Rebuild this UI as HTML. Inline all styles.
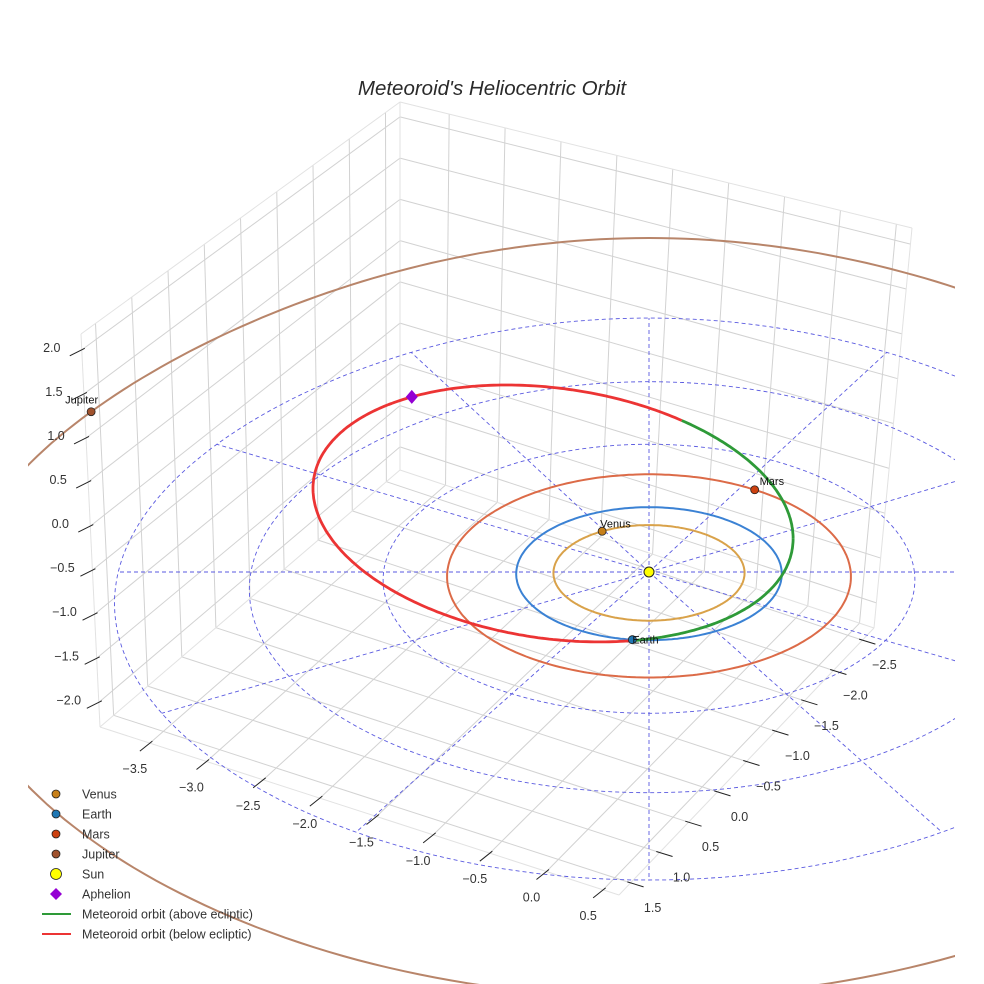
<!DOCTYPE html>
<html><head><meta charset="utf-8"><style>
html,body{margin:0;padding:0;background:#fff;}
svg{display:block;font-family:"Liberation Sans",sans-serif;}
</style></head><body>
<svg id="chart" width="984" height="984" viewBox="0 0 984 984" xmlns="http://www.w3.org/2000/svg">
<defs><clipPath id="plotClip"><rect x="28" y="0" width="927" height="984"/></clipPath></defs>
<text x="492" y="95" text-anchor="middle" font-size="20.5" font-style="italic" fill="#2a2a2a">Meteoroid's Heliocentric Orbit</text>
<g id="box"></g>
<g id="plot" clip-path="url(#plotClip)"></g>
<g id="ticks"></g>
<g id="legend"></g>
</svg>
<script>
// ---- data ----
const xTicks = [-3.5,-3.0,-2.5,-2.0,-1.5,-1.0,-0.5,0.0,0.5];
const yTicks = [1.5,1.0,0.5,0.0,-0.5,-1.0,-1.5,-2.0,-2.5];
const zTicks = [-2.0,-1.5,-1.0,-0.5,0.0,0.5,1.0,1.5,2.0];
const planetNames = ["Venus","Earth","Mars","Jupiter"];
const planetRadii = [0.72,1.0,1.52,5.2];
const planetAngles = [120,263,57,151];
const orbitColors = ["#d9a24a","#3b82d4","#dc6b48","#b8856a"];
const markerColors = ["#c7801a","#1f77b4","#cc4110","#a0522d"];
const gridRadii = [1,2,3,4];
const gridAngles = [0,30,60,90,120,150,180,210,240,270,300,330];
const meteorCenter = [-0.723,1.357,-0.352];
const meteorAxisA = [1.809,-1.463,0.794];
const meteorAxisB = [0.0,2.018,-0.1];
const aphelionE = 2.2;

// ---- axis range / box geometry ----
const xmin=-3.94,xmax=0.64,ymin=-2.7,ymax=1.7,zmin=-2.28,zmax=2.18;
const L=[100,727],F=[619,895],R=[874,628],B=[400,470],TB=[400,102],TL=[81,334],TR=[912,228];
const NS="http://www.w3.org/2000/svg";
function el(tag,attrs,parent){const e=document.createElementNS(NS,tag);for(const k in attrs)e.setAttribute(k,attrs[k]);parent.appendChild(e);return e;}
function bil(c00,c10,c11,c01,u,v){return [(1-u)*(1-v)*c00[0]+u*(1-v)*c10[0]+u*v*c11[0]+(1-u)*v*c01[0],(1-u)*(1-v)*c00[1]+u*(1-v)*c10[1]+u*v*c11[1]+(1-u)*v*c01[1]];}
const ux=x=>(x-xmin)/(xmax-xmin), vy=y=>(ymax-y)/(ymax-ymin), wz=z=>(z-zmin)/(zmax-zmin);
const box=document.getElementById('box');
function gl(p,q,name,stroke){const l=el('line',{x1:p[0],y1:p[1],x2:q[0],y2:q[1],stroke:stroke||'#d2d2d2','stroke-width':1},box);

}
const floorF=(u,v)=>bil(L,F,R,B,u,v), leftW=(u,v)=>bil(L,B,TB,TL,u,v), rightW=(u,v)=>bil(B,R,TR,TB,u,v);
xTicks.forEach(x=>{const u=ux(x);gl(floorF(u,0),floorF(u,1),'floor-grid-x');gl(rightW(u,0),rightW(u,1),'back-wall-grid-x');});
yTicks.forEach(y=>{const v=vy(y);gl(floorF(0,v),floorF(1,v),'floor-grid-y');gl(leftW(v,0),leftW(v,1),'left-wall-grid-y');});
zTicks.forEach(z=>{const w=wz(z);gl(leftW(0,w),leftW(1,w),'left-wall-grid-z');gl(rightW(0,w),rightW(1,w),'back-wall-grid-z');});
[[L,F],[F,R],[R,B],[B,L],[L,TL],[TL,TB],[TB,B],[TB,TR],[TR,R]].forEach(e=>gl(e[0],e[1],'box-edge','#e2e2e2'));

// ---- ticks ----
const tk=document.getElementById('ticks');
function tickLine(p,dx,dy,name){const l=el('line',{x1:p[0]-dx*0.25,y1:p[1]-dy*0.25,x2:p[0]+dx,y2:p[1]+dy,stroke:'#222','stroke-width':1},tk);

}
function tickText(x,y,txt,name){const t=el('text',{x:x,y:y,'text-anchor':'middle','font-size':12.5,fill:'#333'},tk);t.textContent=txt;

}
const fmt=v=>(v<0?'\u2212':'')+Math.abs(v).toFixed(1);
xTicks.forEach(x=>{const p=floorF(ux(x),0);tickLine(p,-10,8,'x-tick');tickText(p[0]-15,p[1]+30,fmt(x),'x-tick-label');});
yTicks.forEach(y=>{const p=floorF(1,vy(y));tickLine(p,13,4,'y-tick');tickText(p[0]+22,p[1]+29,fmt(y),'y-tick-label');});
zTicks.forEach(z=>{const p=leftW(0,wz(z));tickLine(p,-12,6,'z-tick');tickText(p[0]-30,p[1]+2,fmt(z),'z-tick-label');});

// ---- ecliptic projection ----
function proj(x,y,z){const s=1-0.03*y;const f=66.25*y-1.69*y*y+0.25*y*y*y;return [649+132.7*x*s,572-f-92*z];}
function projLin(x,y,z){return [649+132.7*x,572-67*y-92*z];}
const plot=document.getElementById('plot');
function poly(pts,attrs,name){const d=pts.map((p,i)=>(i?'L':'M')+p[0].toFixed(1)+' '+p[1].toFixed(1)).join('');const a=Object.assign({d:d,fill:'none'},attrs);const e=el('path',a,plot);

return e;}
function circlePts(r,n){const pts=[];for(let i=0;i<=n;i++){const t=i/n*2*Math.PI;pts.push(proj(r*Math.cos(t),r*Math.sin(t),0));}return pts;}
gridRadii.forEach(r=>poly(circlePts(r,200),{stroke:'#5a5ae0','stroke-width':0.9,'stroke-dasharray':'4 3'},'ecliptic-grid-circle'));
gridAngles.forEach(a=>{const t=a*Math.PI/180,rm=gridRadii[gridRadii.length-1];poly([proj(0,0,0),proj(rm*Math.cos(t),rm*Math.sin(t),0)],{stroke:'#5a5ae0','stroke-width':0.9,'stroke-dasharray':'4 3'},'ecliptic-grid-radial');});
planetRadii.forEach((r,i)=>poly(circlePts(r,300),{stroke:orbitColors[i],'stroke-width':2},'orbit-'+planetNames[i].toLowerCase()));
function mPt(E){return [0,1,2].map(k=>meteorCenter[k]+meteorAxisA[k]*Math.cos(E)+meteorAxisB[k]*Math.sin(E));}
let seg=[],segUp=null;
function flush(){if(seg.length>1)poly(seg,{stroke:segUp?'#2e9a38':'#ec3434','stroke-width':2.8,'stroke-linejoin':'round'},segUp?'meteoroid-orbit-above':'meteoroid-orbit-below');}
for(let i=0;i<=400;i++){const E=i/400*2*Math.PI;const w=mPt(E);const up=w[2]>=0;const p=projLin(w[0],w[1],w[2]);
 if(segUp===null)segUp=up;
 if(up!==segUp){seg.push(p);flush();seg=[p];segUp=up;}else seg.push(p);}
flush();
const sp=proj(0,0,0);
const sun=el('circle',{cx:sp[0],cy:sp[1],r:5,fill:'#ffff00',stroke:'#222','stroke-width':1},plot);


planetNames.forEach((n,i)=>{const t=planetAngles[i]*Math.PI/180;const p=proj(planetRadii[i]*Math.cos(t),planetRadii[i]*Math.sin(t),0);
 const c=el('circle',{cx:p[0],cy:p[1],r:4,fill:markerColors[i],stroke:'#222','stroke-width':0.8},plot);
 
 
 const t2=el('text',{x:p[0]-2,y:p[1]-4,'font-size':11,fill:'#111'},plot);t2.textContent=n;
 if(n==='Earth'){t2.setAttribute('x',p[0]);t2.setAttribute('y',p[1]+4);}
 if(n==='Mars'){t2.setAttribute('x',p[0]+5);t2.setAttribute('y',p[1]-5);}
 if(n==='Jupiter'){t2.setAttribute('x',p[0]-26);t2.setAttribute('y',p[1]-8);}
 
 });
const aw=mPt(aphelionE),ap=projLin(aw[0],aw[1],aw[2]);
const dm=el('path',{d:`M${ap[0]} ${ap[1]-7}L${ap[0]+6} ${ap[1]}L${ap[0]} ${ap[1]+7}L${ap[0]-6} ${ap[1]}Z`,fill:'#9400d3'},plot);



const lg=document.getElementById('legend');
const legendLabels=["Venus","Earth","Mars","Jupiter","Sun","Aphelion","Meteoroid orbit (above ecliptic)","Meteoroid orbit (below ecliptic)"];
legendLabels.forEach((lab,i)=>{const y=794+i*20;const g=el('g',{},lg);
 
 
 if(i<4)el('circle',{cx:56,cy:y,r:4,fill:markerColors[i],stroke:'#222','stroke-width':0.8},g);
 else if(i===4)el('circle',{cx:56,cy:y,r:5.5,fill:'#ffff00',stroke:'#222','stroke-width':0.8},g);
 else if(i===5)el('path',{d:`M56 ${y-6}L62 ${y}L56 ${y+6}L50 ${y}Z`,fill:'#9400d3'},g);
 else el('line',{x1:42,y1:y,x2:71,y2:y,stroke:i===6?'#2e9a38':'#ec3434','stroke-width':2},g);
 const t=el('text',{x:82,y:y+4.5,'font-size':12.5,fill:'#333'},g);t.textContent=lab;});
</script>
</body></html>
